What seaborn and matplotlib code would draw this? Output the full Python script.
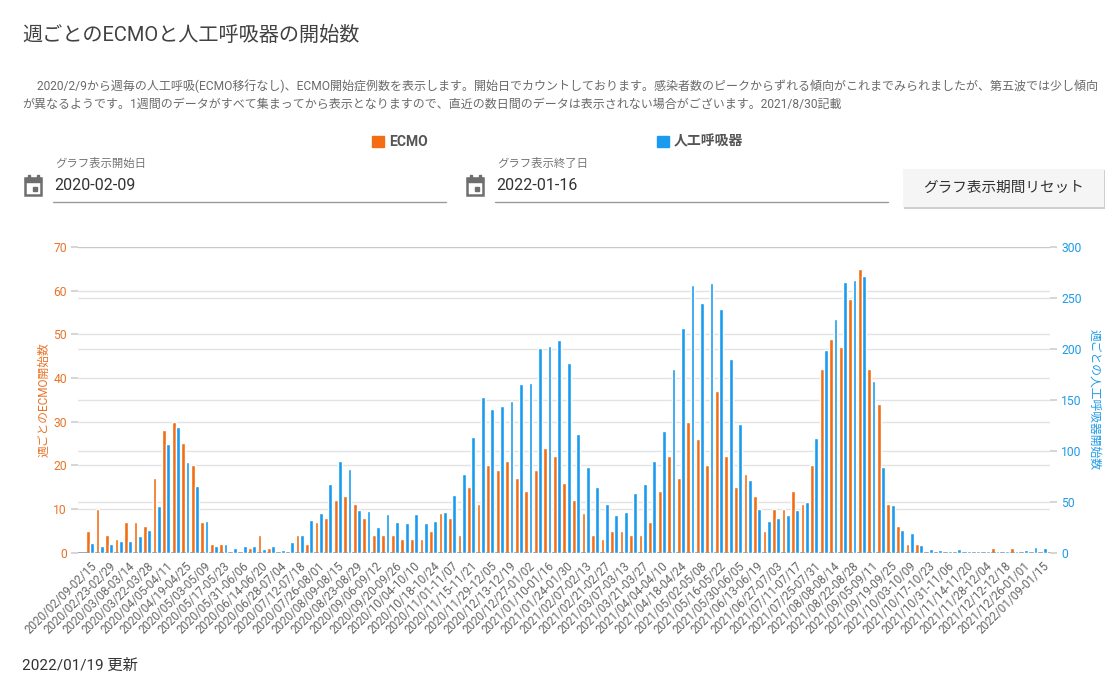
import numpy as np
import pandas as pd
import matplotlib
matplotlib.use("Agg")
import matplotlib.pyplot as plt
import seaborn as sns
from matplotlib.patches import Rectangle
from matplotlib.lines import Line2D

# weekly counts (week starting 2020-02-09)
ecmo = [5, 10, 4, 3, 7, 7, 6, 17, 28, 30, 25, 20, 7, 2, 2, 0, 0, 1, 4, 1,
        0, 0, 4, 2, 7, 8, 12, 13, 11, 8, 4, 4, 4, 3, 3, 3, 5, 9, 8, 4,
        15, 11, 20, 19, 21, 17, 14, 19, 24, 22, 16, 12, 9, 4, 3, 5, 5, 4, 4, 7,
        14, 22, 17, 30, 26, 20, 37, 22, 15, 18, 13, 5, 10, 10, 14, 11, 20, 42, 49, 47,
        58, 65, 42, 34, 11, 6, 2, 2, 0, 0, 0, 0, 0, 0, 0, 1, 0, 1, 0, 0, 0]
vent = [9, 6, 8, 11, 11, 16, 22, 46, 107, 123, 89, 65, 31, 6, 8, 4, 6, 6, 3, 6,
        2, 10, 17, 32, 39, 67, 90, 82, 42, 41, 25, 38, 30, 29, 38, 29, 31, 40, 56, 77,
        113, 153, 141, 144, 149, 165, 166, 201, 203, 209, 186, 116, 84, 64, 48, 37, 40, 58, 67, 90,
        119, 180, 220, 263, 245, 265, 239, 190, 126, 71, 43, 31, 34, 37, 42, 50, 112, 199, 229, 266,
        268, 272, 168, 84, 47, 22, 19, 7, 3, 2, 1, 3, 1, 1, 1, 1, 1, 1, 2, 5, 4]

starts = pd.date_range("2020-02-09", periods=len(ecmo), freq="7D")
weeks = [f"{d:%Y/%m/%d}-{(d + pd.Timedelta(days=6)):%m/%d}" for d in starts]

series_names = ["ECMO", "人工呼吸器"]
colors = {"ECMO": "#f26d14", "人工呼吸器": "#1a9bef"}
left_ticks = [0, 10, 20, 30, 40, 50, 60, 70]
right_ticks = [0, 50, 100, 150, 200, 250, 300]

df = pd.DataFrame({
    "week": weeks * 2,
    "series": ["ECMO"] * len(weeks) + ["人工呼吸器"] * len(weeks),
    "value": ecmo + vent,
})

sns.set_theme(style="white")
plt.rcParams["font.family"] = ["Roboto", "Noto Sans CJK JP", "DejaVu Sans"]

W, H = 1120, 698
fig = plt.figure(figsize=(W / 100, H / 100), dpi=100)


def fx(px):
    return px / W


def fy(py):
    return 1 - py / H


ax = fig.add_axes([fx(78), fy(552.5), fx(1050) - fx(78), fy(247) - fy(552.5)])
ax2 = ax.twinx()

sns.barplot(data=df[df["series"] == "ECMO"], x="week", y="value", hue="series",
            hue_order=series_names, order=weeks, palette=colors, saturation=1,
            dodge=True, width=0.9, gap=0.12, legend=False, ax=ax)
sns.barplot(data=df[df["series"] == "人工呼吸器"], x="week", y="value", hue="series",
            hue_order=series_names, order=weeks, palette=colors, saturation=1,
            dodge=True, width=0.9, gap=0.12, legend=False, ax=ax2)

ax.set_ylim(0, 70)
ax2.set_ylim(0, 300)
ax.set_xlim(-1.26, 100.74)

# gridlines for both scales, kept under the bars
for v in left_ticks[1:-1]:
    ax.axhline(v, color="#e3e3e3", lw=1, zorder=0)
ax.hlines(right_ticks[1:-1], -2, 102, color="#e3e3e3", lw=1, zorder=0,
          transform=ax2.transData)
ax.axhline(70, color="#c8c8c8", lw=1, zorder=0)
ax.axhline(0, color="#8a9bab", lw=1.2, zorder=3)

for a in (ax, ax2):
    for s in a.spines.values():
        s.set_visible(False)
    a.set_xlabel("")
    a.set_ylabel("")

ax.set_yticks(left_ticks)
ax.set_yticklabels([str(t) for t in left_ticks], color="#e8742a", fontsize=8.7)
ax.tick_params(axis="y", length=5, color="#d0d0d0", pad=3, left=True)
ax2.set_yticks(right_ticks)
ax2.set_yticklabels([str(t) for t in right_ticks], color="#1f9be6", fontsize=8.7)
ax2.tick_params(axis="y", length=5, color="#d0d0d0", pad=3, right=True)

show = list(range(0, len(weeks), 2))
ax.set_xticks(show)
ax.set_xticklabels([weeks[i] for i in show], rotation=45, ha="right",
                   rotation_mode="anchor", fontsize=8.4, color="#666666")
ax.tick_params(axis="x", length=0, pad=5)

ax.set_ylabel("週ごとのECMO開始数", color="#e8742a", fontsize=8.5, labelpad=2)
ax2.set_ylabel("週ごとの人工呼吸器開始数", color="#1f9be6", fontsize=8.5,
               rotation=270, labelpad=14)

# header
fig.text(fx(22), fy(35), "週ごとのECMOと人工呼吸器の開始数", fontsize=14.5,
         color="#424242", va="center")
fig.text(fx(22), fy(86), "\u3000 2020/2/9から週毎の人工呼吸(ECMO移行なし)、ECMO開始症例数を表示します。"
         "開始日でカウントしております。感染者数のピークからずれる傾向がこれまでみられましたが、第五波では少し傾向",
         fontsize=8.65, color="#6a6a6a", va="center")
fig.text(fx(22), fy(104), "が異なるようです。1週間のデータがすべて集まってから表示となりますので、"
         "直近の数日間のデータは表示されない場合がございます。2021/8/30記載",
         fontsize=8.65, color="#6a6a6a", va="center")

# legend
for px, name in [(372, "ECMO"), (657, "人工呼吸器")]:
    fig.add_artist(Rectangle((fx(px), fy(147)), fx(12), fy(136) - fy(147),
                             transform=fig.transFigure, color=colors[name]))
    fig.text(fx(px + 17), fy(141.5), name, fontsize=10, fontweight="bold",
             color="#555555", va="center")

# date pickers
for x0, label, value in [(24, "グラフ表示開始日", "2020-02-09"),
                         (466, "グラフ表示終了日", "2022-01-16")]:
    fig.add_artist(Rectangle((fx(x0 + 1), fy(195)), fx(16), fy(178) - fy(195),
                             transform=fig.transFigure, fill=False, ec="#6e6e6e", lw=1.8))
    fig.add_artist(Rectangle((fx(x0 + 1), fy(182)), fx(16), fy(178) - fy(182),
                             transform=fig.transFigure, color="#6e6e6e"))
    for tx in (x0 + 4, x0 + 13):
        fig.add_artist(Rectangle((fx(tx), fy(178)), fx(1.5), fy(175) - fy(178),
                                 transform=fig.transFigure, color="#6e6e6e"))
    fig.add_artist(Rectangle((fx(x0 + 9), fy(191)), fx(4), fy(187) - fy(191),
                             transform=fig.transFigure, color="#6e6e6e"))
    fig.text(fx(x0 + 31), fy(163), label, fontsize=8.2, color="#757575", va="center")
    fig.text(fx(x0 + 30), fy(186), value, fontsize=11.5, color="#333333", va="center")
    fig.add_artist(Line2D([fx(x0 + 29), fx(x0 + 422)], [fy(201.5), fy(201.5)],
                          transform=fig.transFigure, color="#9a9a9a", lw=1))

# reset button
fig.add_artist(Rectangle((fx(904), fy(209)), fx(201), fy(170) - fy(209),
                         transform=fig.transFigure, color="#cfcfcf", lw=0))
fig.add_artist(Rectangle((fx(903), fy(207)), fx(201), fy(169) - fy(207),
                         transform=fig.transFigure, color="#f5f5f5", lw=0))
fig.text(fx(1003.5), fy(188), "グラフ表示期間リセット", fontsize=10.5, color="#333333",
         ha="center", va="center")

# footer
fig.text(fx(22), fy(666), "2022/01/19 更新", fontsize=11, color="#333333", va="center")

fig.savefig("out.png", dpi=100)
